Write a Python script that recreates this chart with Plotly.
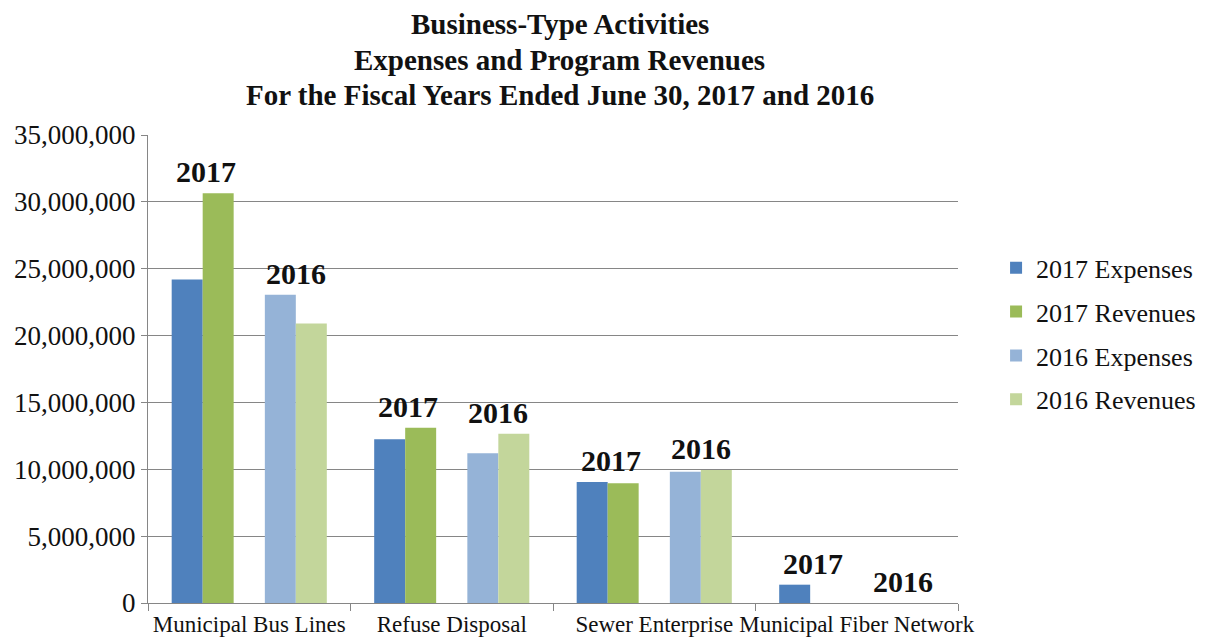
import plotly.graph_objects as go

categories = ["Municipal Bus Lines", "Refuse Disposal", "Sewer Enterprise", "Municipal Fiber Network"]
exp_2017 = [24200000, 12250000, 9050000, 1370000]
rev_2017 = [30650000, 13100000, 8950000, 0]
exp_2016 = [23050000, 11200000, 9820000, 0]
rev_2016 = [20900000, 12650000, 9950000, 0]

title_lines = ["Business-Type Activities", "Expenses and Program Revenues",
               "For the Fiscal Years Ended June 30, 2017 and 2016"]

series = [
    ("2017 Expenses", exp_2017, "#4F81BD", -0.383),
    ("2017 Revenues", rev_2017, "#9BBB59", -0.230),
    ("2016 Expenses", exp_2016, "#95B3D7", 0.077),
    ("2016 Revenues", rev_2016, "#C3D69B", 0.230),
]
BW = 0.153
FONT = "Liberation Serif, Times New Roman, serif"

fig = go.Figure()
for name, vals, color, off in series:
    fig.add_trace(go.Bar(
        x=categories, y=vals, name=name, marker=dict(color=color, line=dict(width=0)),
        width=BW, offset=off, legendgroup=name,
    ))

# year labels above each pair
for i, c in enumerate(categories):
    top17 = max(exp_2017[i], rev_2017[i])
    top16 = max(exp_2016[i], rev_2016[i])
    fig.add_annotation(x=i - 0.23 + 0.015, y=top17, xref="x", yref="y", text="<b>2017</b>",
                       showarrow=False, yanchor="bottom", yshift=3,
                       font=dict(family=FONT, size=30, color="#111"))
    fig.add_annotation(x=i + 0.23, y=top16, xref="x", yref="y", text="<b>2016</b>",
                       showarrow=False, yanchor="bottom", yshift=3,
                       font=dict(family=FONT, size=30, color="#111"))

# title lines
for line, ypos in zip(title_lines, [1.2375, 1.1603, 1.0855]):
    fig.add_annotation(x=0.5086, y=ypos, xref="paper", yref="paper", text=f"<b>{line}</b>",
                       showarrow=False, xanchor="center", yanchor="middle", borderpad=0,
                       font=dict(family=FONT, size=29, color="#111"))

# page body adds an 8px offset; margins compensate so the plot area lands at 148..958 x 135..603
fig.update_layout(
    width=1207, height=639,
    paper_bgcolor="white", plot_bgcolor="white",
    barmode="overlay",
    margin=dict(l=140, r=257, t=127, b=44),
    font=dict(family=FONT, color="#111"),
    legend=dict(
        x=1.047, xanchor="left", y=0.575, yanchor="middle",
        font=dict(family=FONT, size=26, color="#111"),
        tracegroupgap=7, traceorder="grouped",
    ),
    showlegend=True,
)
fig.update_xaxes(
    type="category", range=[-0.5, 3.5], automargin=False, tickangle=0,
    showline=True, linecolor="#868686", linewidth=1,
    ticks="outside", tickson="boundaries", ticklen=7, tickcolor="#868686",
    tickfont=dict(family=FONT, size=23, color="#111"),
    showgrid=False,
)
fig.update_yaxes(
    range=[0, 35000000], dtick=5000000, tickformat=",", automargin=False,
    showline=True, linecolor="#868686", linewidth=1,
    ticks="outside", ticklen=6, tickcolor="#868686",
    showgrid=True, gridcolor="#868686", gridwidth=1,
    tickfont=dict(family=FONT, size=27, color="#111"),
    zeroline=False,
)

fig.write_html("out.html")
